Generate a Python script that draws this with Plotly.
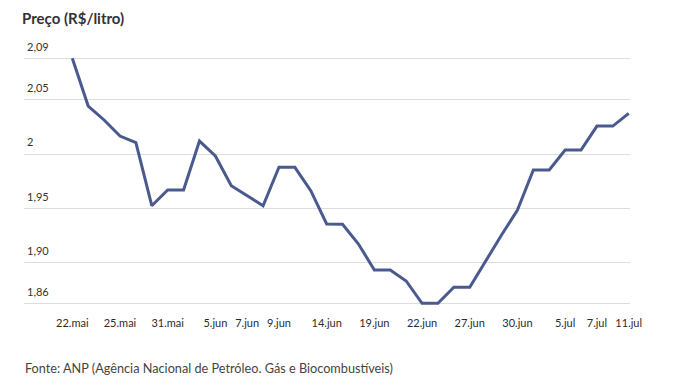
import plotly.graph_objects as go

dates = ["22.mai", "23.mai", "24.mai", "25.mai", "29.mai", "30.mai", "31.mai", "1.jun",
         "4.jun", "5.jun", "6.jun", "7.jun", "8.jun", "9.jun", "12.jun", "13.jun",
         "14.jun", "15.jun", "18.jun", "19.jun", "20.jun", "21.jun", "22.jun", "25.jun",
         "26.jun", "27.jun", "28.jun", "29.jun", "30.jun", "2.jul", "3.jul", "5.jul",
         "6.jul", "7.jul", "10.jul", "11.jul"]
prices = [2.0880, 2.0441, 2.0313, 2.0165, 2.0104, 1.9525, 1.9669, 1.9669,
          2.0119, 1.9982, 1.9709, 1.9617, 1.9525, 1.9878, 1.9878, 1.9663,
          1.9357, 1.9354, 1.9173, 1.8934, 1.8934, 1.8833, 1.8628, 1.8628,
          1.8775, 1.8775, 1.9019, 1.9256, 1.9485, 1.9853, 1.9853, 2.0037,
          2.0037, 2.0257, 2.0257, 2.0374]
x_ticks = ["22.mai", "25.mai", "31.mai", "5.jun", "7.jun", "9.jun", "14.jun", "19.jun",
           "22.jun", "27.jun", "30.jun", "5.jul", "7.jul", "11.jul"]
y_tickvals = [1.8627, 1.90, 1.95, 2.0, 2.05, 2.0877]
y_ticktext = ["1,86", "1,90", "1,95", "2", "2,05", "2,09"]

FONT = "Lato"
fig = go.Figure()
fig.add_trace(go.Scatter(x=dates, y=prices, mode="lines",
                         line=dict(color="#4a5a8e", width=3), hoverinfo="x+y"))

fig.update_layout(
    width=687, height=386,
    margin=dict(l=16, r=65, t=43, b=82),
    plot_bgcolor="white", paper_bgcolor="white",
    showlegend=False,
    font=dict(family=FONT, size=11, color="#333333"),
    title=dict(text="<b>Preço (R$/litro)</b>", x=14/687, xref="container", xanchor="left",
               y=1-11/386, yref="container", yanchor="middle",
               font=dict(family=FONT, size=15, color="#333333")),
    xaxis=dict(type="category", categoryorder="array", categoryarray=dates,
               range=[-3.038, 35.08], tickmode="array", tickvals=x_ticks, ticktext=x_ticks,
               showgrid=False, zeroline=False, showline=False, ticks="",
               ticklabelstandoff=3,
               tickfont=dict(family=FONT, size=11, color="#2b2b2b")),
    yaxis=dict(range=[1.8548, 2.0947], tickmode="array", tickvals=y_tickvals, ticktext=y_ticktext,
               showgrid=True, gridcolor="#dddddd", gridwidth=1, zeroline=False, showline=False,
               ticks="", ticklabelposition="inside top", ticklabeloverflow="allow",
               ticklabelshift=-4,
               tickfont=dict(family=FONT, size=11, color="#333333")),
    annotations=[dict(text="Fonte: ANP (Agência Nacional de Petróleo. Gás e Biocombustíveis)",
                      xref="paper", yref="paper", x=-1/606, y=-(368-312)/261,
                      xanchor="left", yanchor="middle", showarrow=False,
                      font=dict(family=FONT, size=12.7, color="#444444"))],
)
fig.write_html("out.html")
